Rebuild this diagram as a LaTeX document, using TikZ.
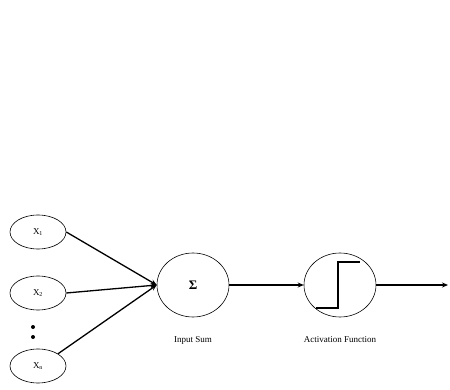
\documentclass[tikz,border=0pt]{standalone}
\usepackage{fontspec}
\setmainfont{Liberation Serif}
\usetikzlibrary{shapes.geometric,arrows.meta}
\begin{document}
\begin{tikzpicture}[x=1pt,y=-1pt,
  inpnode/.style={ellipse,draw,line width=0.6pt,minimum width=56pt,minimum height=34pt,inner sep=0pt,font=\fontsize{9}{10}\selectfont},
  bignode/.style={ellipse,draw,line width=0.6pt,minimum width=72pt,minimum height=64pt,inner sep=0pt},
  conn/.style={line width=1.3pt,-{Stealth[length=6pt,width=5pt]}},
  lblnode/.style={font=\fontsize{9}{10}\selectfont}]
\useasboundingbox (0,0) rectangle (450,390);
\node[inpnode] (x1) at (38,232) {X\textsubscript{1}};
\node[inpnode] (x2) at (38,293) {X\textsubscript{2}};
\node[inpnode] (xn) at (38,366) {X\textsubscript{n}};
\fill (33,327) circle (2pt);
\fill (33,337) circle (2pt);
\node[bignode,font=\fontsize{13}{14}\selectfont\bfseries] (sumnode) at (193,285) {Σ};
\node[bignode] (actnode) at (340,285) {};
\coordinate (outpt) at (448,285);
\draw[conn] (x1.east) -- (sumnode.west);
\draw[conn] (x2.east) -- (sumnode.west);
\draw[conn] (xn.north east) -- (sumnode.west);
\draw[conn] (sumnode.east) -- (actnode.west);
\draw[conn] (actnode.east) -- (outpt);
\draw[line width=1.4pt] (316,308) -- (338,308) -- (338,262) -- (360,262);
\node[lblnode] (l1) at (193,340) {Input Sum};
\node[lblnode] (l2) at (340,340) {Activation Function};
\end{tikzpicture}
\end{document}
